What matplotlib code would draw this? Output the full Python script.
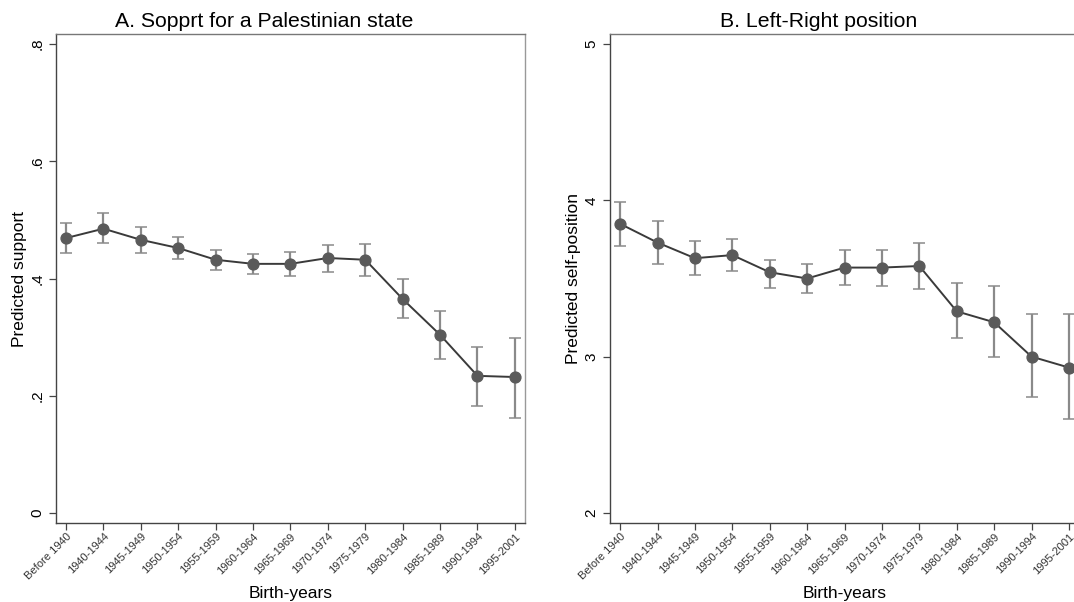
import matplotlib
matplotlib.use("Agg")
import matplotlib.pyplot as plt

plt.rcParams['font.family'] = ['Liberation Sans', 'DejaVu Sans']

cohorts = ["Before 1940", "1940-1944", "1945-1949", "1950-1954", "1955-1959",
           "1960-1964", "1965-1969", "1970-1974", "1975-1979", "1980-1984",
           "1985-1989", "1990-1994", "1995-2001"]

# panel A: predicted support with 95% CI
support = [0.469, 0.485, 0.466, 0.452, 0.432, 0.425, 0.425, 0.435, 0.432,
           0.365, 0.304, 0.234, 0.232]
support_lo = [0.444, 0.461, 0.444, 0.433, 0.415, 0.408, 0.404, 0.411, 0.404,
              0.333, 0.263, 0.183, 0.162]
support_hi = [0.495, 0.512, 0.488, 0.471, 0.449, 0.442, 0.445, 0.457, 0.459,
              0.399, 0.345, 0.283, 0.299]

# panel B: predicted left-right self-position with 95% CI
lr = [3.85, 3.73, 3.63, 3.65, 3.54, 3.50, 3.57, 3.57, 3.58,
      3.29, 3.22, 3.00, 2.93]
lr_lo = [3.71, 3.59, 3.52, 3.55, 3.44, 3.41, 3.46, 3.45, 3.43,
         3.12, 3.00, 2.74, 2.60]
lr_hi = [3.99, 3.87, 3.74, 3.75, 3.62, 3.59, 3.68, 3.68, 3.73,
         3.47, 3.45, 3.27, 3.27]

fig = plt.figure(figsize=(10.74, 6.02), dpi=100)
ax1 = fig.add_axes([0.0521, 0.1312, 0.4367, 0.8123])
ax2 = fig.add_axes([0.568, 0.1312, 0.4367, 0.8123])


def draw(ax, vals, lo, hi, title, ylabel, ylim, yticks, yticklabels):
    x = list(range(len(cohorts)))
    err = [[v - l for v, l in zip(vals, lo)], [h - v for v, h in zip(vals, hi)]]
    ax.errorbar(x, vals, yerr=err, fmt='none', ecolor='#8a8a8a',
                elinewidth=1.6, capsize=4, capthick=1.1, zorder=2)
    ax.plot(x, vals, color='#3a3a3a', lw=1.4, zorder=3)
    ax.plot(x, vals, 'o', color='#5a5a5a', markersize=7.8, zorder=4)

    ax.set_xlim(-0.27, 12.27)
    ax.set_ylim(*ylim)
    ax.set_xticks(x)
    ax.set_xticklabels(cohorts, rotation=45, ha='right', rotation_mode='anchor',
                       fontsize=8, color='#333333')
    ax.set_yticks(yticks)
    ax.set_yticklabels(yticklabels, rotation=90, va='center', fontsize=11)
    ax.tick_params(axis='both', length=5, width=0.9, color='#444444')
    ax.tick_params(axis='x', pad=1)
    # title is centred on the whole panel (incl. y label), not the plot area
    ax.set_title(title, fontsize=15.3, pad=5, x=0.445)
    ax.set_ylabel(ylabel, fontsize=12.5, labelpad=2)
    ax.set_xlabel("Birth-years", fontsize=12.5, labelpad=3)
    for s in ax.spines.values():
        s.set_color('#444444')
        s.set_linewidth(1.0)
    ax.spines['right'].set_color('#999999')
    ax.spines['top'].set_color('#777777')


draw(ax1, support, support_lo, support_hi, "A. Sopprt for a Palestinian state",
     "Predicted support", (-0.017, 0.817), [0, 0.2, 0.4, 0.6, 0.8],
     ["0", ".2", ".4", ".6", ".8"])
draw(ax2, lr, lr_lo, lr_hi, "B. Left-Right position",
     "Predicted self-position", (1.935, 5.065), [2, 3, 4, 5],
     ["2", "3", "4", "5"])

fig.savefig("out.png", dpi=100)
